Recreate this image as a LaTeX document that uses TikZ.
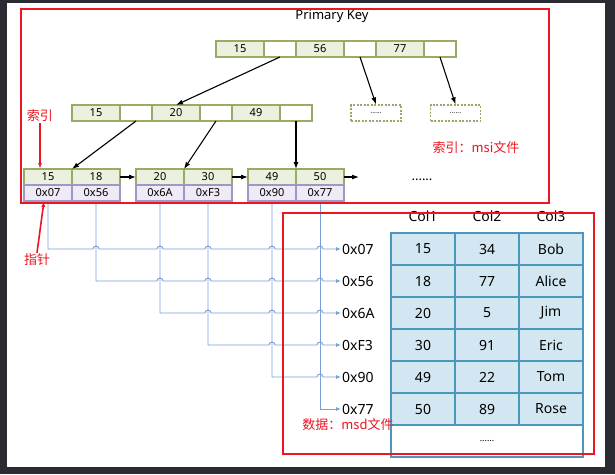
\documentclass[tikz,border=0pt]{standalone}
\usepackage{fontspec}
\setmainfont{Noto Sans}
\newfontfamily\cjk{Noto Sans CJK SC}
\usetikzlibrary{arrows,arrows.meta,positioning,shapes,calc}

\definecolor{keyfill}{RGB}{235,241,222}
\definecolor{keyline}{RGB}{150,172,100}
\definecolor{ptrfill}{RGB}{238,234,246}
\definecolor{ptrline}{RGB}{160,150,196}
\definecolor{rowfill}{RGB}{210,231,242}
\definecolor{rowline}{RGB}{75,150,185}
\definecolor{wireblue}{RGB}{118,160,220}
\definecolor{markred}{RGB}{234,22,32}
\definecolor{screen}{RGB}{42,43,51}

\tikzset{
  key/.style={draw=keyline,fill=keyfill,line width=1.2pt,minimum width=48,minimum height=16,inner sep=0,outer sep=0,font=\fontsize{11}{11}\selectfont},
  nil/.style={key,fill=white,minimum width=32},
  ptr/.style={key,draw=ptrline,fill=ptrfill},
  dotbox/.style={draw=keyline,line width=1.2pt,dash pattern=on 2pt off 1.5pt,minimum width=50,minimum height=16,inner sep=0,font=\fontsize{7}{7}\selectfont},
  cell/.style={draw=rowline,fill=rowfill,line width=1.2pt,minimum width=64,minimum height=32,inner sep=0,outer sep=0,font=\fontsize{14}{14}\selectfont},
  addr/.style={anchor=west,inner sep=1pt,font=\fontsize{14}{14}\selectfont},
  note/.style={text=markred,inner sep=1pt,font=\cjk\fontsize{13}{13}\selectfont},
  bt/.style={-{Latex[length=7pt,width=5pt]},line width=1.1pt},
  wire/.style={draw=wireblue,line width=0.9pt,-{Latex[length=5pt,width=4pt]}},
  redarrow/.style={draw=markred,line width=1.6pt,-{Latex[length=6pt,width=4pt]}},
  frame/.style={draw=markred,line width=2pt}
}

\begin{document}
\begin{tikzpicture}[x=1pt,y=-1pt]
\useasboundingbox (0,0) rectangle (615,474);
\fill[screen] (0,0) rectangle (615,474);
\fill[white] (7,3) rectangle (605,467);

% index file
\node[font=\fontsize{13}{13}\selectfont] (pk) at (332,16) {Primary Key};
\node[key,anchor=north west] (r15) at (216,41) {15};
\node[nil,right=0pt of r15] (rn1) {};
\node[key,right=0pt of rn1] (r56) {56};
\node[nil,right=0pt of r56] (rn2) {};
\node[key,right=0pt of rn2] (r77) {77};
\node[nil,right=0pt of r77] (rn3) {};

\node[key,anchor=north west] (m15) at (72,105) {15};
\node[nil,right=0pt of m15] (mn1) {};
\node[key,right=0pt of mn1] (m20) {20};
\node[nil,right=0pt of m20] (mn2) {};
\node[key,right=0pt of mn2] (m49) {49};
\node[nil,right=0pt of m49] (mn3) {};
\node[dotbox] (d1) at (376,113) {......};
\node[dotbox] (d2) at (455.5,113) {......};

\node[key,anchor=north west] (k15) at (24,169) {15};
\node[key,right=0pt of k15] (k18) {18};
\node[ptr,below=0pt of k15] (p07) {0x07};
\node[ptr,below=0pt of k18] (p56) {0x56};
\node[key,anchor=north west] (k20) at (136,169) {20};
\node[key,right=0pt of k20] (k30) {30};
\node[ptr,below=0pt of k20] (p6A) {0x6A};
\node[ptr,below=0pt of k30] (pF3) {0xF3};
\node[key,anchor=north west] (k49) at (248,169) {49};
\node[key,right=0pt of k49] (k50) {50};
\node[ptr,below=0pt of k49] (p90) {0x90};
\node[ptr,below=0pt of k50] (p77) {0x77};
\coordinate (tail) at (359,177);
\node[font=\fontsize{13}{13}\selectfont\bfseries] (more) at (422,180) {......};

\draw[bt] (rn1.south) -- (m20.north);
\draw[bt] (rn2.south) -- (d1.north);
\draw[bt] (rn3.south) -- (d2.north);
\draw[bt] (mn1.south) -- (k15.north east);
\draw[bt] (mn2.south) -- (k20.north east);
\draw[bt] (mn3.south) -- (k49.north east);
\draw[bt] (k18.east) -- (k20.west);
\draw[bt] (k30.east) -- (k49.west);
\draw[bt] (k50.east) -- (tail);

% data file
\node[font=\fontsize{14}{14}\selectfont] (h1) at (423,216) {Col1};
\node[font=\fontsize{14}{14}\selectfont] (h2) at (487,216) {Col2};
\node[font=\fontsize{14}{14}\selectfont] (h3) at (551,216) {Col3};
\foreach \u/\v/\w [count=\i] in {15/34/Bob,18/77/Alice,20/5/Jim,30/91/Eric,49/22/Tom,50/89/Rose}
{
  \node[cell] (ca\i) at (423,217+32*\i) {\u};
  \node[cell] (cb\i) at (487,217+32*\i) {\v};
  \node[cell] (cc\i) at (551,217+32*\i) {\w};
}
\node[cell,fill=white,minimum width=192,font=\fontsize{9}{9}\selectfont] (rest) at (487,441) {......};

\node[addr] (a07) at (341,249) {0x07};
\node[addr] (a56) at (341,281) {0x56};
\node[addr] (a6A) at (341,313) {0x6A};
\node[addr] (aF3) at (341,345) {0xF3};
\node[addr] (a90) at (341,377) {0x90};
\node[addr] (a77) at (341,409) {0x77};

% pointers, hopping over the wires below
\draw[wire] (p07.south) -- (p07.south |- a07.west) \foreach \h in {56,6A,F3,90,77} { -- ($(p\h.south |- a07.west)+(-3,0)$) .. controls +(0,-4) and +(0,-4) .. ($(p\h.south |- a07.west)+(3,0)$) } -- (a07.west);
\draw[wire] (p56.south) -- (p56.south |- a56.west) \foreach \h in {6A,F3,90,77} { -- ($(p\h.south |- a56.west)+(-3,0)$) .. controls +(0,-4) and +(0,-4) .. ($(p\h.south |- a56.west)+(3,0)$) } -- (a56.west);
\draw[wire] (p6A.south) -- (p6A.south |- a6A.west) \foreach \h in {F3,90,77} { -- ($(p\h.south |- a6A.west)+(-3,0)$) .. controls +(0,-4) and +(0,-4) .. ($(p\h.south |- a6A.west)+(3,0)$) } -- (a6A.west);
\draw[wire] (pF3.south) -- (pF3.south |- aF3.west) \foreach \h in {90,77} { -- ($(p\h.south |- aF3.west)+(-3,0)$) .. controls +(0,-4) and +(0,-4) .. ($(p\h.south |- aF3.west)+(3,0)$) } -- (aF3.west);
\draw[wire] (p90.south) -- (p90.south |- a90.west) \foreach \h in {77} { -- ($(p\h.south |- a90.west)+(-3,0)$) .. controls +(0,-4) and +(0,-4) .. ($(p\h.south |- a90.west)+(3,0)$) } -- (a90.west);
\draw[wire] (p77.south) -- (p77.south |- a77.west) -- (a77.west);

% red notes
\draw[frame] (21,9) rectangle (549,203);
\draw[frame] (283,213) rectangle (594,454);
\node[note] (idx) at (40,116) {索引};
\node[note] (ptrnote) at (37,260) {指针};
\node[note] (msi) at (476,148) {索引：msi文件};
\node[note] (msd) at (348,425) {数据：msd文件};
\draw[redarrow] (idx.south) -- (idx.south |- k15.north);
\draw[redarrow] (ptrnote.north) -- ([xshift=-4pt]p07.south);
\end{tikzpicture}
\end{document}
